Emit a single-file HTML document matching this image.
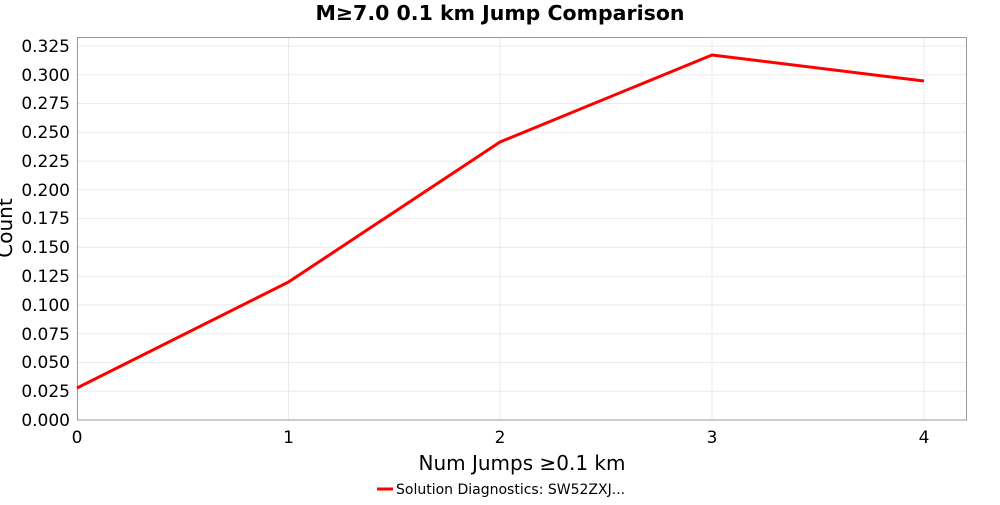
<!DOCTYPE html>
<html><head><meta charset="utf-8"><style>
html,body{margin:0;padding:0;background:#fff;}
svg text{font-family:"DejaVu Sans","Liberation Sans",sans-serif;}
</style></head><body>
<svg width="1000" height="500" xmlns="http://www.w3.org/2000/svg">
<rect width="1000" height="500" fill="#fff"/>
<text x="500" y="20" text-anchor="middle" font-size="20.5" font-weight="bold">M≥7.0 0.1 km Jump Comparison</text>
<g stroke="#ebebeb" stroke-width="1">
<line x1="77" y1="391.2" x2="967" y2="391.2"/><line x1="77" y1="362.5" x2="967" y2="362.5"/>
<line x1="77" y1="333.7" x2="967" y2="333.7"/><line x1="77" y1="304.9" x2="967" y2="304.9"/>
<line x1="77" y1="276.2" x2="967" y2="276.2"/><line x1="77" y1="247.4" x2="967" y2="247.4"/>
<line x1="77" y1="218.6" x2="967" y2="218.6"/><line x1="77" y1="189.8" x2="967" y2="189.8"/>
<line x1="77" y1="161.1" x2="967" y2="161.1"/><line x1="77" y1="132.3" x2="967" y2="132.3"/>
<line x1="77" y1="103.5" x2="967" y2="103.5"/><line x1="77" y1="74.8" x2="967" y2="74.8"/>
<line x1="77" y1="46" x2="967" y2="46"/>
<line x1="288.5" y1="37" x2="288.5" y2="420"/><line x1="500" y1="37" x2="500" y2="420"/>
<line x1="712" y1="37" x2="712" y2="420"/><line x1="924" y1="37" x2="924" y2="420"/>
</g>
<rect x="77.5" y="37.5" width="889" height="382.5" fill="none" stroke="#999" stroke-width="1"/>
<g font-size="17" text-anchor="end">
<text x="70" y="426">0.000</text><text x="70" y="397">0.025</text><text x="70" y="368">0.050</text>
<text x="70" y="340">0.075</text><text x="70" y="311">0.100</text><text x="70" y="282">0.125</text>
<text x="70" y="253">0.150</text><text x="70" y="224">0.175</text><text x="70" y="196">0.200</text>
<text x="70" y="167">0.225</text><text x="70" y="138">0.250</text><text x="70" y="109">0.275</text>
<text x="70" y="81">0.300</text><text x="70" y="52">0.325</text>
</g>
<g font-size="17" text-anchor="middle">
<text x="77" y="443">0</text><text x="288.5" y="443">1</text><text x="500" y="443">2</text>
<text x="712" y="443">3</text><text x="924" y="443">4</text>
</g>
<text x="522" y="470" text-anchor="middle" font-size="20">Num Jumps ≥0.1 km</text>
<text transform="translate(12,228) rotate(-90)" text-anchor="middle" font-size="20">Count</text>
<polyline points="77,388 288.5,282 500,142 712,55 924,81" fill="none" stroke="#ff0000" stroke-width="3" stroke-linejoin="round"/>
<line x1="377" y1="489" x2="393" y2="489" stroke="#ff0000" stroke-width="3"/>
<text x="396" y="494" font-size="14">Solution Diagnostics: SW52ZXJ...</text>
</svg>
</body></html>
